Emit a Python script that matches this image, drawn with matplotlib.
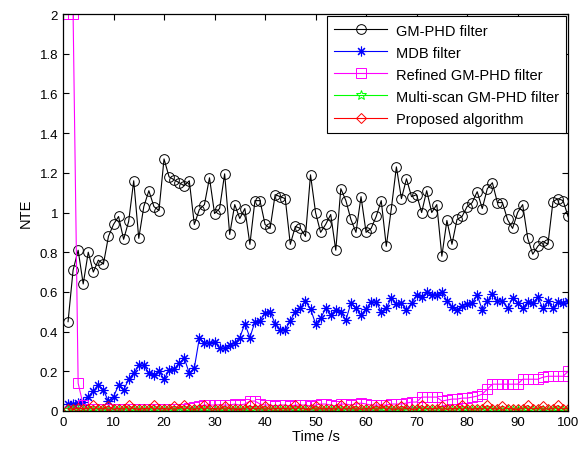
import numpy as np
import matplotlib
matplotlib.use('Agg')
import matplotlib.pyplot as plt

plt.rcParams['font.family'] = ['Liberation Sans', 'DejaVu Sans']

# time axis (s)
time = list(range(1, 101))

# NTE values
gm_phd = [0.45, 0.71, 0.81, 0.64, 0.80, 0.70, 0.76, 0.74, 0.88, 0.94,
          0.98, 0.865, 0.955, 1.16, 0.87, 1.03, 1.11, 1.03, 1.01, 1.27,
          1.18, 1.165, 1.15, 1.135, 1.16, 0.94, 1.015, 1.04, 1.175, 0.995,
          1.02, 1.195, 0.89, 1.04, 0.97, 1.02, 0.84, 1.06, 1.06, 0.94,
          0.92, 1.09, 1.08, 1.07, 0.84, 0.93, 0.92, 0.88, 1.19, 1.00,
          0.90, 0.94, 0.99, 0.81, 1.12, 1.06, 0.965, 0.90, 1.08, 0.90,
          0.92, 0.98, 1.06, 0.83, 1.02, 1.23, 1.07, 1.17, 1.08, 1.09,
          1.00, 1.11, 1.00, 1.04, 0.78, 0.96, 0.84, 0.965, 0.98, 1.03,
          1.05, 1.105, 1.02, 1.12, 1.15, 1.05, 1.05, 0.965, 0.92, 1.00,
          1.04, 0.87, 0.79, 0.83, 0.855, 0.84, 1.055, 1.07, 1.06, 0.98]

mdb = [0.037, 0.037, 0.04, 0.047, 0.072, 0.10, 0.13, 0.105, 0.049, 0.072,
       0.13, 0.105, 0.16, 0.19, 0.23, 0.23, 0.19, 0.18, 0.20, 0.16,
       0.205, 0.21, 0.24, 0.267, 0.19, 0.217, 0.368, 0.343, 0.343, 0.35,
       0.317, 0.317, 0.33, 0.343, 0.37, 0.44, 0.37, 0.45, 0.455, 0.495,
       0.50, 0.44, 0.41, 0.41, 0.455, 0.50, 0.52, 0.553, 0.514, 0.44,
       0.467, 0.517, 0.484, 0.51, 0.497, 0.458, 0.544, 0.517, 0.484, 0.514,
       0.548, 0.55, 0.50, 0.517, 0.57, 0.54, 0.543, 0.51, 0.543, 0.584,
       0.573, 0.60, 0.586, 0.586, 0.598, 0.556, 0.525, 0.51, 0.53, 0.54,
       0.544, 0.584, 0.51, 0.553, 0.59, 0.553, 0.556, 0.517, 0.57, 0.543,
       0.517, 0.55, 0.544, 0.573, 0.517, 0.553, 0.517, 0.55, 0.544, 0.556]

refined = [2.0, 2.0, 0.14, 0.03, 0.012, 0.01, 0.012, 0.008, 0.01, 0.012,
           0.01, 0.008, 0.01, 0.012, 0.01, 0.01, 0.012, 0.01, 0.008, 0.01,
           0.012, 0.01, 0.01, 0.012, 0.015, 0.02, 0.025, 0.03, 0.03, 0.03,
           0.032, 0.03, 0.03, 0.035, 0.03, 0.035, 0.05, 0.05, 0.035, 0.03,
           0.03, 0.025, 0.03, 0.03, 0.025, 0.03, 0.03, 0.03, 0.025, 0.03,
           0.035, 0.035, 0.03, 0.025, 0.035, 0.035, 0.03, 0.035, 0.04, 0.035,
           0.03, 0.03, 0.03, 0.03, 0.035, 0.035, 0.035, 0.04, 0.045, 0.045,
           0.07, 0.07, 0.07, 0.07, 0.05, 0.055, 0.06, 0.06, 0.065, 0.065,
           0.07, 0.075, 0.085, 0.11, 0.135, 0.135, 0.135, 0.135, 0.135, 0.135,
           0.16, 0.16, 0.16, 0.16, 0.17, 0.175, 0.175, 0.175, 0.175, 0.20]

multi_scan = [0.005, 0.004, 0.006, 0.003, 0.005, 0.004, 0.006, 0.005, 0.003, 0.005,
              0.004, 0.006, 0.005, 0.004, 0.003, 0.005, 0.006, 0.004, 0.005, 0.003,
              0.005, 0.004, 0.006, 0.005, 0.004, 0.003, 0.005, 0.006, 0.004, 0.005,
              0.003, 0.005, 0.004, 0.006, 0.005, 0.004, 0.003, 0.005, 0.006, 0.004,
              0.005, 0.003, 0.005, 0.004, 0.006, 0.005, 0.004, 0.003, 0.005, 0.006,
              0.004, 0.005, 0.003, 0.005, 0.004, 0.006, 0.005, 0.004, 0.003, 0.005,
              0.006, 0.004, 0.005, 0.003, 0.005, 0.004, 0.006, 0.005, 0.004, 0.003,
              0.005, 0.006, 0.004, 0.005, 0.003, 0.005, 0.004, 0.006, 0.005, 0.004,
              0.003, 0.005, 0.006, 0.004, 0.005, 0.003, 0.005, 0.004, 0.006, 0.005,
              0.004, 0.003, 0.005, 0.006, 0.004, 0.005, 0.003, 0.005, 0.004, 0.006]

proposed = [0.012, 0.008, 0.015, 0.01, 0.012, 0.028, 0.01, 0.012, 0.025, 0.008,
            0.012, 0.01, 0.028, 0.012, 0.008, 0.012, 0.01, 0.03, 0.01, 0.012,
            0.008, 0.026, 0.012, 0.028, 0.01, 0.008, 0.012, 0.03, 0.01, 0.012,
            0.008, 0.025, 0.012, 0.01, 0.008, 0.012, 0.028, 0.01, 0.012, 0.025,
            0.008, 0.012, 0.01, 0.012, 0.008, 0.028, 0.012, 0.01, 0.008, 0.025,
            0.012, 0.01, 0.012, 0.008, 0.03, 0.01, 0.012, 0.025, 0.008, 0.012,
            0.01, 0.026, 0.012, 0.028, 0.01, 0.008, 0.025, 0.012, 0.01, 0.008,
            0.028, 0.012, 0.01, 0.012, 0.025, 0.008, 0.012, 0.01, 0.028, 0.012,
            0.008, 0.012, 0.01, 0.028, 0.012, 0.008, 0.025, 0.012, 0.01, 0.008,
            0.012, 0.028, 0.01, 0.012, 0.025, 0.008, 0.012, 0.028, 0.01, 0.012]

series_labels = ['GM-PHD filter', 'MDB filter', 'Refined GM-PHD filter',
                 'Multi-scan GM-PHD filter', 'Proposed algorithm']

fig = plt.figure(figsize=(5.86, 4.56), dpi=100)
ax = fig.add_axes([0.1075, 0.0965, 0.862, 0.8705])

lw = 0.8
ax.plot(time, gm_phd, color='k', lw=lw, marker='o', ms=7, mfc='none', mew=0.7,
        label=series_labels[0])
# MATLAB style asterisk
ax.plot(time, mdb, color='#0000ff', lw=lw, marker=(8, 2, 0), ms=7, mew=0.8,
        label=series_labels[1])
ax.plot(time, refined, color='#ff00ff', lw=lw, marker='s', ms=7, mfc='none', mew=0.7,
        label=series_labels[2])
ax.plot(time, multi_scan, color='#00ff00', lw=lw, marker='*', ms=7, mfc='none', mew=0.7,
        label=series_labels[3])
ax.plot(time, proposed, color='#ff0000', lw=lw, marker='D', ms=5.5, mfc='none', mew=0.7,
        label=series_labels[4])

ax.set_xlim(0, 100)
ax.set_ylim(0, 2)
ax.set_xticks(np.arange(0, 101, 10))
ax.set_yticks(np.arange(0, 2.01, 0.2))
ax.set_yticklabels(['0', '0.2', '0.4', '0.6', '0.8', '1', '1.2', '1.4', '1.6', '1.8', '2'])
ax.tick_params(direction='in', top=True, right=True, labelsize=9.5, length=4, width=0.8)
for s in ax.spines.values():
    s.set_linewidth(0.9)

ax.set_xlabel('Time /s', fontsize=10.5, labelpad=1)
ax.set_ylabel('NTE', fontsize=10.5, labelpad=5)

leg = ax.legend(loc='upper right', fontsize=10.5, fancybox=False, framealpha=1,
                edgecolor='k', borderaxespad=0.15, handlelength=3.6,
                labelspacing=0.55, borderpad=0.5, handletextpad=0.6)
leg.get_frame().set_linewidth(0.8)

fig.savefig('out.png', dpi=100)
